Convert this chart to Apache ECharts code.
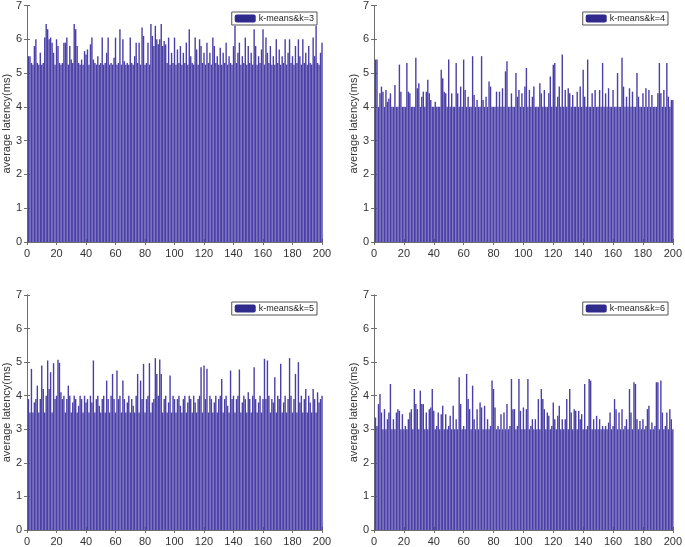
<!DOCTYPE html>
<html><head><meta charset="utf-8">
<script src="https://cdn.jsdelivr.net/npm/echarts@6/dist/echarts.min.js"></script>
<style>html,body{margin:0;padding:0;background:#fff}#c{width:685px;height:547px}</style>
</head><body><div id="c"></div>
<script>
const seriesNames = ['k-means&k=3','k-means&k=4','k-means&k=5','k-means&k=6'];
const xTicks = [0,20,40,60,80,100,120,140,160,180,200];
const yTicks = [0,1,2,3,4,5,6,7];
const yLabel = 'average latency(ms)';

const latencyK3 = [
5.5,5.5,5.3,5.25,5.8,6.0,5.3,5.25,5.6,5.25,5.3,6.05,6.45,6.3,6.0,6.05,5.9,5.6,5.25,6.0,
5.8,5.3,5.25,5.3,5.9,5.9,6.05,5.25,5.8,5.4,5.3,6.45,6.3,5.8,5.3,5.25,5.4,5.25,5.65,5.55,
5.7,5.25,5.85,6.05,5.4,5.3,5.25,5.5,5.25,5.3,6.05,5.25,5.3,5.6,6.05,5.25,5.3,5.25,5.45,6.05,
5.25,5.3,6.3,5.25,6.0,5.35,5.25,5.3,5.25,6.05,5.3,5.25,5.5,5.9,5.3,5.9,5.25,6.35,6.1,5.25,
5.3,5.9,5.25,6.45,6.1,5.8,6.4,6.0,5.85,6.0,6.45,5.8,5.95,5.85,5.3,6.05,5.25,5.6,5.3,6.05,
5.25,5.7,5.3,5.8,5.25,5.6,5.3,5.9,5.25,6.3,5.5,5.3,5.25,6.05,5.7,5.25,6.0,5.8,5.3,5.6,
5.25,5.9,5.3,5.6,5.25,6.05,5.8,5.3,5.5,5.25,5.75,5.25,5.6,5.3,5.9,5.25,5.5,5.3,5.25,5.8,
6.4,5.3,5.6,5.9,5.25,5.5,5.3,6.05,5.25,5.8,5.3,5.6,5.25,6.3,5.8,5.25,5.5,5.3,5.7,6.3,
5.25,6.05,5.6,5.3,5.8,5.25,5.5,5.25,6.0,5.3,5.7,5.25,5.5,5.3,6.0,5.25,5.6,6.0,5.3,5.5,
5.25,5.8,5.3,6.0,5.5,5.25,6.0,5.3,5.6,5.25,5.8,5.3,5.25,6.05,5.5,6.4,5.3,5.25,5.6,5.9
];
const latencyK4 = [
5.4,5.4,4.0,4.4,4.6,4.45,4.0,4.5,4.15,4.25,4.4,4.0,4.0,4.65,4.0,4.0,5.25,4.45,4.0,4.0,
4.0,5.3,4.45,4.4,4.0,4.0,4.0,5.45,4.55,4.7,4.0,4.3,4.45,4.0,4.45,4.8,4.4,4.2,4.0,4.0,
4.15,4.0,4.0,4.0,5.1,4.85,4.45,4.4,4.0,5.4,4.0,4.4,4.0,4.0,5.3,4.4,4.0,4.6,4.0,5.4,
4.5,4.0,4.3,4.0,4.0,5.5,4.35,4.0,4.2,4.0,4.0,5.5,4.2,4.0,4.3,4.0,4.75,4.6,4.0,4.0,
4.0,4.45,4.0,4.45,4.0,4.55,4.0,5.05,5.35,4.0,4.0,4.4,4.0,4.0,5.0,4.3,4.5,4.0,4.4,4.0,
4.6,5.15,4.0,4.5,4.0,4.3,4.6,4.0,4.0,4.0,4.7,4.4,4.0,4.5,4.0,4.0,4.4,4.9,4.0,5.25,
5.3,4.0,4.3,4.6,4.0,5.55,4.0,4.5,4.0,4.55,4.4,4.0,4.35,4.0,4.0,4.45,4.0,4.6,4.0,5.1,
4.3,4.0,5.4,4.0,4.0,4.4,4.0,4.5,4.0,4.0,4.5,4.0,5.3,4.0,4.4,4.0,4.55,4.0,4.0,4.5,
4.0,4.0,5.0,4.0,4.0,5.45,4.6,4.0,4.3,4.0,4.55,4.0,4.45,4.0,4.0,5.0,4.3,4.0,4.0,4.4,
4.0,4.55,4.0,4.5,4.0,4.35,4.0,4.0,4.0,4.4,5.3,4.4,4.0,4.5,4.0,5.3,4.3,4.0,4.2,4.2
];
const latencyK5 = [
3.9,3.5,4.8,3.5,3.8,3.9,4.3,3.5,3.9,4.9,4.2,3.5,4.0,5.05,4.2,4.7,3.5,4.97,3.9,4.0,
5.07,4.98,4.1,3.9,4.0,3.5,3.9,4.3,4.0,3.5,3.8,4.0,3.9,3.5,3.7,4.0,3.9,3.5,4.0,3.8,
3.9,3.5,4.0,3.8,5.05,3.5,3.9,4.0,3.7,3.5,3.9,4.0,3.5,4.45,3.9,3.5,4.0,4.65,3.9,3.5,
4.75,3.9,4.0,3.5,4.45,3.9,3.5,3.8,4.0,3.5,3.9,3.7,3.5,4.0,4.65,3.5,4.45,3.9,4.95,3.5,
3.9,4.0,4.97,3.5,3.8,3.9,5.12,4.65,4.0,5.08,4.65,3.5,3.9,4.0,3.5,3.8,4.6,3.5,4.0,3.9,
3.5,3.9,4.0,3.7,3.5,3.9,4.0,3.5,3.8,4.0,3.9,3.5,4.0,3.8,3.5,3.9,4.0,4.85,3.5,4.9,
3.9,4.8,3.5,4.0,3.9,3.5,3.8,4.0,3.5,3.9,4.0,4.5,3.5,3.9,4.0,3.7,3.5,4.75,3.9,4.0,
3.5,3.9,4.0,4.78,3.5,3.8,4.0,3.9,3.5,4.1,3.9,3.5,4.0,4.85,3.9,3.5,3.8,4.0,3.5,3.9,
5.1,3.9,5.05,4.0,3.5,3.9,3.8,4.55,3.5,4.0,3.9,4.95,3.5,3.8,4.0,3.5,3.9,5.12,4.0,3.5,
3.9,4.65,3.5,5.0,3.8,4.0,3.5,3.9,4.2,3.5,4.0,3.8,3.5,4.2,3.9,3.5,4.1,3.8,3.9,4.0
];
const latencyK6 = [
3.35,3.1,3.75,4.05,3.5,3.0,3.6,3.0,3.3,3.5,4.35,3.0,3.3,3.0,3.5,3.6,3.55,3.0,3.45,3.0,
3.1,3.0,3.3,3.5,3.6,3.0,4.2,3.75,3.6,3.0,4.15,3.75,3.75,3.0,3.5,3.0,3.6,3.65,4.2,3.55,
3.0,3.1,3.5,3.0,3.45,3.7,3.0,3.45,3.0,3.1,3.4,3.0,3.7,3.0,3.3,3.0,4.55,3.75,3.0,3.1,
3.0,4.65,3.9,3.6,3.0,4.3,3.3,3.0,3.6,3.0,3.8,3.65,3.0,3.7,3.0,3.3,3.0,3.1,4.45,4.2,
3.65,3.0,3.1,3.0,3.45,3.0,3.5,3.0,3.75,3.0,3.1,4.5,3.6,3.6,3.0,3.1,4.5,3.55,3.0,3.65,
3.0,3.6,4.5,3.0,3.1,3.3,3.0,3.3,3.0,3.9,3.0,4.2,3.9,3.6,3.0,3.5,3.4,3.0,3.1,3.8,
3.3,3.0,3.4,3.7,3.0,3.3,3.0,3.3,3.9,3.0,4.2,3.5,3.0,3.6,3.55,3.0,3.55,3.3,3.45,3.0,
4.35,3.0,3.1,4.5,4.45,3.0,3.3,3.0,3.4,3.0,3.3,3.0,3.1,3.0,3.1,3.0,3.2,3.5,3.0,3.1,
3.9,3.6,3.0,3.5,3.0,3.6,3.0,3.1,3.3,3.0,4.2,3.5,3.0,4.4,4.35,3.3,3.0,3.25,3.0,3.3,
3.0,3.1,3.6,3.7,3.0,3.2,3.0,3.1,4.4,4.4,3.0,4.45,3.5,3.0,3.1,3.5,3.0,3.6,3.3,3.0
];
const allData = [latencyK3, latencyK4, latencyK5, latencyK6];

const grids = [
  {left: 22, top: 4, width: 300, height: 238},
  {left: 374, top: 4, width: 301, height: 238},
  {left: 22, top: 295, width: 300, height: 240},
  {left: 374, top: 295, width: 301, height: 240}
];
const legendPos = [
  {right: 368, top: 12},
  {right: 17, top: 12},
  {right: 368, top: 302},
  {right: 17, top: 302}
];
const FONT = 'Liberation Sans, Arial, sans-serif';
const axisColor = '#6f6f6f';
const textColor = '#333';

const xAxis = [], yAxis = [], series = [], legend = [];
grids.forEach((g, i) => {
  const common = {
    gridIndex: i,
    axisLine: {show: true, lineStyle: {color: axisColor, width: 1}},
    axisTick: {show: true, inside: true, length: 3, lineStyle: {color: axisColor}},
    splitLine: {show: false}
  };
  xAxis.push(Object.assign({}, common, {
    type: 'value', position: 'bottom',
    min: xTicks[0], max: xTicks[xTicks.length-1], interval: xTicks[1]-xTicks[0],
    axisLabel: {color: textColor, fontSize: 11, fontFamily: FONT, margin: 6}
  }));
  xAxis.push(Object.assign({}, common, {
    type: 'value', position: 'top',
    min: xTicks[0], max: xTicks[xTicks.length-1], interval: xTicks[1]-xTicks[0],
    axisLabel: {show: false}
  }));
  yAxis.push(Object.assign({}, common, {
    type: 'value', position: 'left',
    min: yTicks[0], max: yTicks[yTicks.length-1], interval: yTicks[1]-yTicks[0],
    name: yLabel, nameLocation: 'middle', nameGap: 13,
    nameTextStyle: {color: textColor, fontSize: 11, fontFamily: FONT},
    axisLabel: {color: textColor, fontSize: 11, fontFamily: FONT, margin: 5}
  }));
  yAxis.push(Object.assign({}, common, {
    type: 'value', position: 'right',
    min: yTicks[0], max: yTicks[yTicks.length-1], interval: yTicks[1]-yTicks[0],
    axisLabel: {show: false}
  }));
  series.push({
    name: seriesNames[i],
    type: 'bar',
    xAxisIndex: i*2, yAxisIndex: i*2,
    barWidth: 1.4,
    itemStyle: {color: '#4a3fa6'},
    data: allData[i].map((v, k) => [k + 1, v]),
    animation: false
  });
  legend.push(Object.assign({
    data: [{name: seriesNames[i], itemStyle: {color: '#2f2a8c'}}],
    orient: 'vertical',
    itemWidth: 21, itemHeight: 8,
    itemGap: 0,
    padding: [2, 3, 2, 3],
    borderColor: '#555', borderWidth: 1, borderRadius: 0,
    backgroundColor: '#fff',
    textStyle: {fontSize: 9, fontFamily: FONT, color: '#222', padding: [0,0,0,-2]},
    selectedMode: false
  }, legendPos[i]));
});

const chart = echarts.init(document.getElementById('c'), null, {renderer: 'canvas'});
chart.setOption({
  animation: false,
  backgroundColor: '#fff',
  grid: grids,
  xAxis: xAxis,
  yAxis: yAxis,
  legend: legend,
  series: series
});
</script></body></html>
